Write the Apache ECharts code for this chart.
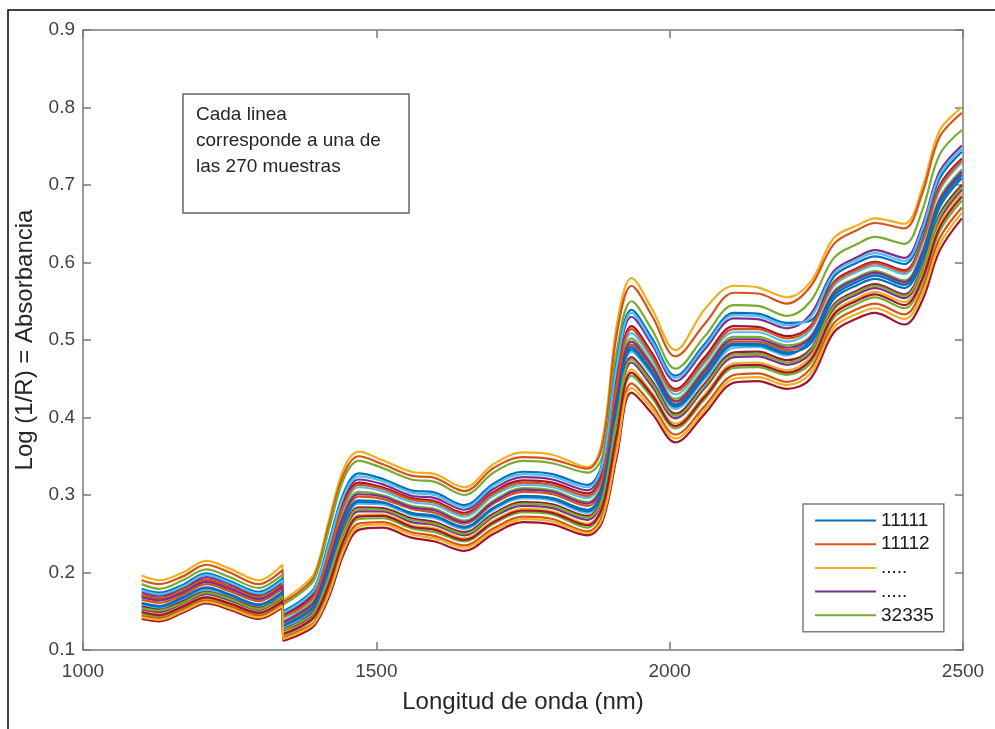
<!DOCTYPE html>
<html>
<head>
<meta charset="utf-8">
<title>Espectros NIR</title>
<script src="https://cdn.jsdelivr.net/npm/echarts@6.0.0/dist/echarts.min.js"></script>
<style>
  html, body { margin: 0; padding: 0; background: #fff; }
  #chart { width: 995px; height: 729px; }
</style>
</head>
<body>
<div id="chart"></div>
<script>
// Longitudes de onda (nm) de cada lectura; el detector cambia en 1340/1341 nm
const longitudOnda = [1100, 1130, 1170, 1210, 1250, 1300, 1340,
  1341, 1370, 1395, 1420, 1445, 1470, 1510, 1560, 1600, 1650, 1700, 1750, 1800, 1860,
  1885, 1910, 1935, 1970, 2010, 2060, 2110, 2150, 2200,
  2240, 2280, 2320, 2350, 2400, 2430, 2460, 2498];

// Absorbancia log(1/R) de algunas muestras representativas
const m01 = [.196,.190,.200,.215,.205,.190,.210, .165,.180,.200,.270,.335,.356,.345,.330,.327,.310,.340,.355,.352,.336, .370,.520,.580,.540,.487,.540,.570,.568,.555, .575,.632,.648,.657,.650,.695,.770,.800];
const m02 = [.190,.185,.195,.210,.200,.185,.203, .162,.176,.196,.264,.328,.350,.340,.325,.322,.305,.335,.349,.346,.334, .363,.508,.570,.531,.479,.521,.561,.560,.547, .569,.624,.642,.651,.644,.688,.762,.793];
const m03 = [.185,.179,.190,.204,.194,.180,.197, .159,.173,.192,.258,.322,.344,.335,.320,.317,.300,.329,.344,.341,.329, .349,.486,.550,.513,.463,.505,.545,.544,.531, .550,.606,.624,.633,.624,.666,.739,.771];
const m04 = [.179,.174,.184,.199,.189,.175,.192, .150,.163,.181,.242,.304,.328,.321,.306,.303,.287,.315,.330,.327,.313, .341,.472,.539,.502,.454,.495,.535,.534,.522, .525,.582,.600,.608,.598,.637,.708,.743];
const m05 = [.175,.170,.180,.194,.185,.171,.188, .146,.158,.176,.234,.295,.320,.314,.299,.296,.281,.308,.323,.320,.306, .334,.462,.530,.494,.447,.488,.528,.527,.515, .533,.589,.607,.616,.606,.646,.717,.751];
const m06 = [.172,.167,.178,.191,.182,.169,.185, .144,.156,.173,.230,.291,.316,.310,.296,.292,.277,.304,.319,.316,.302, .326,.449,.518,.483,.437,.478,.518,.517,.505, .518,.575,.593,.601,.590,.628,.699,.734];
const m07 = [.168,.164,.174,.188,.179,.165,.182, .141,.152,.169,.224,.284,.310,.305,.291,.287,.272,.299,.313,.310,.296, .320,.438,.509,.475,.430,.470,.510,.510,.498, .513,.570,.588,.596,.585,.623,.693,.729];
const m08 = [.171,.166,.177,.190,.181,.168,.184, .137,.149,.165,.218,.278,.304,.300,.286,.282,.267,.293,.309,.306,.291, .314,.430,.502,.469,.424,.464,.504,.504,.493, .505,.563,.581,.589,.577,.614,.683,.720];
const m09 = [.165,.161,.171,.185,.176,.163,.179, .135,.146,.161,.213,.272,.298,.295,.282,.277,.263,.289,.304,.301,.286, .309,.421,.494,.462,.418,.458,.498,.498,.487, .500,.558,.576,.584,.572,.608,.677,.714];
const m10 = [.161,.157,.168,.181,.172,.159,.175, .132,.143,.158,.208,.267,.293,.291,.277,.273,.259,.284,.299,.296,.281, .307,.418,.491,.459,.416,.455,.495,.495,.484, .495,.553,.571,.579,.567,.602,.671,.709];
const m11 = [.158,.154,.165,.178,.169,.156,.172, .130,.140,.155,.204,.262,.289,.288,.274,.270,.256,.281,.296,.293,.277, .303,.411,.485,.454,.411,.450,.490,.491,.480, .503,.560,.578,.586,.575,.611,.680,.717];
const m12 = [.156,.152,.163,.175,.167,.154,.170, .127,.137,.152,.199,.257,.284,.283,.270,.265,.252,.276,.291,.288,.273, .298,.403,.478,.447,.405,.444,.484,.485,.474, .488,.546,.564,.572,.559,.594,.662,.700];
const m13 = [.152,.149,.159,.172,.164,.151,.167, .125,.134,.148,.194,.251,.279,.279,.265,.261,.248,.272,.286,.283,.268, .292,.394,.471,.440,.399,.438,.478,.479,.468, .483,.541,.559,.567,.554,.588,.655,.694];
const m14 = [.150,.146,.157,.169,.161,.149,.164, .122,.131,.145,.189,.246,.274,.275,.261,.257,.244,.267,.282,.279,.263, .286,.384,.462,.432,.392,.430,.470,.471,.461, .478,.536,.554,.562,.549,.582,.649,.689];
const m15 = [.147,.143,.154,.167,.158,.146,.161, .119,.128,.142,.184,.240,.269,.270,.257,.252,.240,.263,.278,.275,.258, .281,.376,.454,.425,.386,.424,.464,.465,.455, .470,.529,.547,.555,.541,.573,.640,.680];
const m16 = [.144,.141,.152,.164,.156,.144,.159, .116,.125,.137,.178,.234,.263,.265,.252,.247,.235,.257,.272,.269,.253, .273,.364,.444,.416,.378,.415,.455,.457,.446, .463,.522,.540,.547,.533,.565,.631,.671];
const m17 = [.140,.137,.148,.160,.152,.140,.155, .112,.120,.132,.170,.225,.255,.258,.245,.240,.228,.250,.265,.262,.248, .265,.350,.432,.405,.368,.405,.445,.447,.437, .450,.510,.528,.535,.520,.550,.615,.657];
const m18 = [.177,.172,.182,.197,.187,.173,.190, .148,.161,.179,.238,.300,.324,.318,.303,.300,.284,.312,.327,.324,.310, .338,.467,.535,.498,.451,.492,.532,.531,.519, .529,.586,.604,.612,.602,.642,.713,.747];
const m19 = [.170,.166,.176,.190,.181,.167,.184, .143,.154,.171,.227,.288,.313,.308,.294,.290,.275,.302,.316,.313,.299, .323,.444,.514,.479,.434,.474,.514,.514,.502, .516,.573,.591,.599,.588,.626,.696,.732];
const m20 = [.168,.164,.174,.188,.179,.166,.182, .136,.148,.163,.216,.275,.301,.298,.284,.280,.265,.291,.307,.304,.289, .312,.426,.498,.466,.421,.461,.501,.501,.490, .503,.561,.579,.587,.575,.611,.680,.717];
const m21 = [.160,.156,.167,.180,.171,.158,.174, .131,.142,.157,.206,.265,.291,.290,.276,.272,.258,.283,.298,.295,.279, .305,.415,.488,.457,.414,.453,.493,.493,.482, .499,.557,.575,.583,.571,.607,.676,.713];
const m22 = [.154,.151,.161,.174,.166,.153,.169, .126,.136,.150,.197,.254,.282,.281,.268,.263,.250,.274,.289,.286,.271, .295,.399,.475,.444,.402,.441,.481,.482,.471, .486,.544,.562,.570,.557,.591,.659,.697];
const m23 = [.149,.145,.156,.168,.160,.148,.163, .121,.130,.144,.187,.243,.272,.273,.259,.255,.242,.265,.280,.277,.261, .284,.380,.458,.429,.389,.427,.467,.468,.458, .474,.533,.551,.559,.545,.578,.645,.685];
const m24 = [.142,.139,.150,.162,.154,.142,.157, .114,.123,.135,.174,.230,.259,.262,.249,.244,.232,.254,.269,.266,.251, .269,.357,.438,.411,.373,.410,.450,.452,.442, .457,.516,.534,.541,.527,.558,.623,.664];

// Códigos de muestra (los de la leyenda y el resto)
const codigos = ['.....', '11112', '32335', '11111', '.....\u200b', '11113', '12114', '12215',
                 '21121', '21222', '22131', '22232', '31211', '31312', '32121', '32222', '32334',
                 '11214', '12121', '13112', '21313', '23121', '31123', '32211'];
const espectros = [m01, m02, m03, m04, m05, m06, m07, m08, m09, m10, m11, m12, m13, m14, m15, m16, m17,
                   m18, m19, m20, m21, m22, m23, m24];
const entradasLeyenda = ['11111', '11112', '.....', '.....\u200b', '32335'];

// Marcas de los ejes
const ticksX = [1000, 1500, 2000, 2500];
const ticksY = [0.1, 0.2, 0.3, 0.4, 0.5, 0.6, 0.7, 0.8, 0.9];

// Paleta por defecto de MATLAB
const paleta = ['#EDB120', '#D95319', '#77AC30', '#0072BD', '#7E2F8E', '#A2142F', '#4DBEEE',
                '#77AC30', '#D95319', '#0072BD', '#4DBEEE', '#A2142F', '#7E2F8E', '#EDB120',
                '#77AC30', '#D95319', '#A2142F',
                '#4DBEEE', '#D95319', '#7E2F8E', '#0072BD', '#77AC30', '#A2142F', '#EDB120'];

const FUENTE = '"Liberation Sans", Arial, Helvetica, sans-serif';
const GRIS_EJE = '#7a7a7a';

const series = espectros.map((valores, i) => ({
  name: codigos[i],
  type: 'line',
  data: longitudOnda.map((w, k) => [w, valores[k]]),
  smooth: 0.35,
  symbol: 'none',
  showSymbol: false,
  itemStyle: { color: paleta[i] },
  lineStyle: { color: paleta[i], width: 2.2 },
  emphasis: { disabled: true },
  z: 2
}));

const ejeX = (pos, etiquetas) => ({
  type: 'value',
  position: pos,
  min: ticksX[0],
  max: ticksX[ticksX.length - 1],
  interval: ticksX[1] - ticksX[0],
  axisLine: { show: true, onZero: false, lineStyle: { color: GRIS_EJE, width: 1.5 } },
  axisTick: { show: true, inside: true, length: 8, lineStyle: { color: GRIS_EJE, width: 1.5 } },
  axisLabel: { show: etiquetas, color: '#404040', fontSize: 19, fontFamily: FUENTE, margin: 12,
               formatter: v => String(v) },
  splitLine: { show: false }
});

const ejeY = (pos, etiquetas) => ({
  type: 'value',
  position: pos,
  min: ticksY[0],
  max: ticksY[ticksY.length - 1],
  interval: 0.1,
  axisLine: { show: true, onZero: false, lineStyle: { color: GRIS_EJE, width: 1.5 } },
  axisTick: { show: true, inside: true, length: 8, lineStyle: { color: GRIS_EJE, width: 1.5 } },
  axisLabel: { show: etiquetas, color: '#404040', fontSize: 19, fontFamily: FUENTE, margin: 8,
               formatter: v => v.toFixed(1) },
  splitLine: { show: false }
});

const xInferior = Object.assign(ejeX('bottom', true), {
  name: 'Longitud de onda (nm)',
  nameLocation: 'middle',
  nameGap: 40,
  nameTextStyle: { fontSize: 24, color: '#262626', fontFamily: FUENTE }
});
const yIzquierdo = Object.assign(ejeY('left', true), {
  name: 'Log (1/R) = Absorbancia',
  nameLocation: 'middle',
  nameGap: 43,
  nameRotate: 90,
  nameTextStyle: { fontSize: 24, color: '#262626', fontFamily: FUENTE }
});

const chart = echarts.init(document.getElementById('chart'), null, { renderer: 'canvas' });
chart.setOption({
  animation: false,
  backgroundColor: '#ffffff',
  textStyle: { fontFamily: FUENTE },
  grid: { left: 83, top: 30, right: 32, bottom: 79, containLabel: false },
  xAxis: [xInferior, ejeX('top', false)],
  yAxis: [yIzquierdo, ejeY('right', false)],
  legend: {
    data: entradasLeyenda,
    orient: 'vertical',
    left: 803,
    top: 504,
    padding: [7, 10, 7, 12],
    itemGap: 4.7,
    itemWidth: 61,
    itemHeight: 2,
    icon: 'rect',
    selectedMode: false,
    backgroundColor: '#ffffff',
    borderColor: '#7f7f7f',
    borderWidth: 1.5,
    borderRadius: 0,
    textStyle: { fontSize: 19, color: '#1a1a1a', fontFamily: FUENTE }
  },
  graphic: [
    {
      type: 'polyline',
      shape: { points: [[8, 729], [8, 10], [995, 10]] },
      style: { stroke: '#000000', lineWidth: 1.5, fill: null },
      silent: true
    },
    {
      type: 'rect',
      shape: { x: 183, y: 94, width: 226, height: 119 },
      style: { stroke: '#666666', lineWidth: 1.5, fill: '#ffffff' },
      z: 10,
      silent: true
    },
    {
      type: 'text',
      x: 196,
      y: 102,
      z: 11,
      style: {
        text: 'Cada linea\ncorresponde a una de\nlas 270 muestras',
        fontSize: 19,
        lineHeight: 26,
        fontFamily: FUENTE,
        fill: '#262626'
      },
      silent: true
    }
  ],
  series: series
});
</script>
</body>
</html>
